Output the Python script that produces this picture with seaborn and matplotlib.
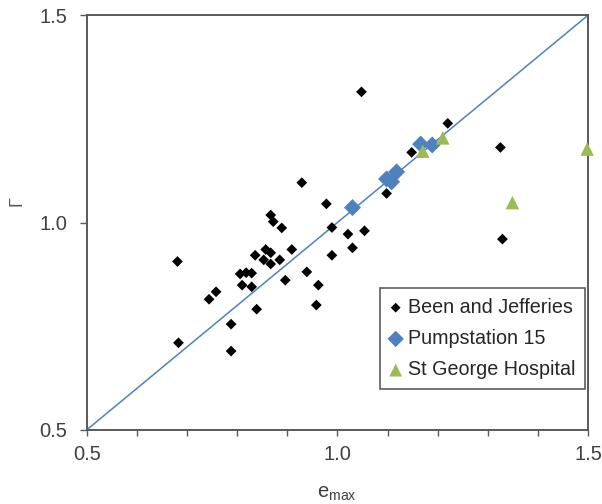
import matplotlib
matplotlib.use("Agg")
import matplotlib.pyplot as plt
import seaborn as sns
import pandas as pd
import numpy as np
from matplotlib.ticker import MultipleLocator, FixedLocator

sns.set_theme(style="white")
plt.rcParams['font.family'] = ['Liberation Sans', 'DejaVu Sans']

# Been and Jefferies
bj_emax = [1.048, 1.220, 1.148, 1.325, 0.929, 1.098, 0.978, 0.867, 0.872, 0.889,
           0.989, 1.054, 1.021, 1.329, 1.030, 0.909, 0.857, 0.867, 0.836, 0.989,
           0.853, 0.867, 0.885, 0.681, 0.806, 0.818, 0.829, 0.939, 0.896, 0.810,
           0.829, 0.962, 0.758, 0.744, 0.958, 0.839, 0.788, 0.683, 0.788]
bj_gamma = [1.315, 1.239, 1.169, 1.181, 1.096, 1.070, 1.045, 1.018, 1.002, 0.987,
            0.988, 0.980, 0.972, 0.960, 0.939, 0.935, 0.935, 0.927, 0.921, 0.921,
            0.910, 0.900, 0.910, 0.906, 0.876, 0.879, 0.878, 0.881, 0.861, 0.849,
            0.845, 0.849, 0.833, 0.815, 0.801, 0.791, 0.755, 0.710, 0.690]
# Pumpstation 15
ps_emax = [1.030, 1.098, 1.108, 1.118, 1.166, 1.189]
ps_gamma = [1.036, 1.105, 1.098, 1.122, 1.189, 1.187]
# St George Hospital
sg_emax = [1.170, 1.210, 1.349, 1.498]
sg_gamma = [1.172, 1.204, 1.048, 1.177]

series = ["Been and Jefferies", "Pumpstation 15", "St George Hospital"]
tick_vals = [0.5, 1.0, 1.5]
tick_labels = ["0.5", "1.0", "1.5"]

df = pd.concat([
    pd.DataFrame({"emax": bj_emax, "gamma": bj_gamma, "src": series[0]}),
    pd.DataFrame({"emax": ps_emax, "gamma": ps_gamma, "src": series[1]}),
    pd.DataFrame({"emax": sg_emax, "gamma": sg_gamma, "src": series[2]}),
])

fig = plt.figure(figsize=(6.02, 5.04), dpi=100)
ax = fig.add_axes([0.144, 0.147, 0.833, 0.823])

ax.plot([0.5, 1.5], [0.5, 1.5], color="#4F81BD", lw=1.1, zorder=1)

colors = {series[0]: "black", series[1]: "#4F81BD", series[2]: "#9BBB59"}
markers = {series[0]: "D", series[1]: "D", series[2]: "^"}
sizes = {series[0]: 30, series[1]: 75, series[2]: 95}
for s in series:
    sub = df[df["src"] == s]
    sns.scatterplot(data=sub, x="emax", y="gamma", ax=ax, color=colors[s],
                    marker=markers[s], s=sizes[s], edgecolor="none", label=s,
                    zorder=3, clip_on=False)

ax.set_xlim(0.5, 1.5)
ax.set_ylim(0.5, 1.5)
ax.xaxis.set_major_locator(FixedLocator(tick_vals))
ax.xaxis.set_minor_locator(MultipleLocator(0.1))
ax.yaxis.set_major_locator(FixedLocator(tick_vals))
ax.set_xticklabels(tick_labels)
ax.set_yticklabels(tick_labels)
ax.tick_params(axis="both", which="both", direction="out", width=1,
               color="#595959", labelsize=14.5, labelcolor="#404040")
ax.tick_params(axis="x", which="both", bottom=True, length=4, pad=7)
ax.tick_params(axis="y", which="both", left=True, length=5, pad=9)
for sp in ax.spines.values():
    sp.set_color("#595959")
    sp.set_linewidth(1.4)

ax.set_xlabel("e$_{\\mathregular{max}}$", fontsize=14.5, color="#404040")
ax.xaxis.set_label_coords(0.5, -0.164)
ax.xaxis.label.set_verticalalignment("baseline")
ax.set_ylabel("Γ", fontsize=13, color="#595959", rotation=90)
ax.yaxis.set_label_coords(-0.139, 0.552)
ax.yaxis.label.set_verticalalignment("center")

leg = ax.legend(loc="upper left", bbox_to_anchor=((380 - 86.7) / 501.6, (430 - 288) / 415),
                fontsize=14.2, frameon=True, fancybox=False, edgecolor="#333333",
                handletextpad=0.3, handlelength=0.6, borderpad=0.5,
                labelspacing=0.62, borderaxespad=0)
leg.get_frame().set_linewidth(1.2)
for t in leg.get_texts():
    t.set_color("#262626")
for h, sz in zip(leg.legend_handles, [25, 70, 85]):
    h.set_sizes([sz])

fig.savefig("out.png", dpi=100)
